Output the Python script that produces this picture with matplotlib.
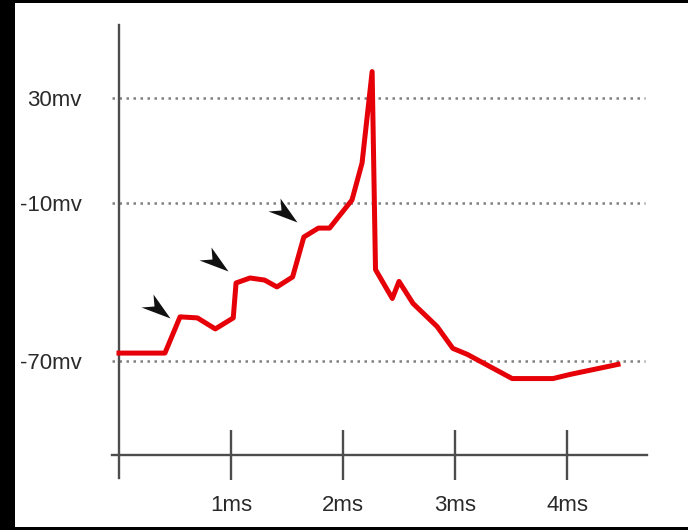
import numpy as np
import matplotlib.pyplot as plt
from matplotlib.path import Path
from matplotlib.patches import Rectangle

plt.rcParams['font.family'] = ['Liberation Sans', 'DejaVu Sans']

# membrane potential trace (time in ms, potential in mV)
t_ms = [0.0, 0.41, 0.545, 0.70, 0.86, 1.02, 1.045, 1.17, 1.30, 1.41, 1.55,
        1.65, 1.78, 1.88, 2.08, 2.17, 2.26, 2.29, 2.44, 2.50, 2.625, 2.84,
        2.98, 3.11, 3.51, 3.875, 4.03, 4.455]
v_mv = [-67.1, -67.1, -53.3, -53.7, -57.9, -53.7, -40.4, -38.5, -39.3, -41.9,
        -38.1, -22.9, -19.5, -19.5, -8.8, 5.3, 40.1, -35.3, -46.3, -39.8,
        -48.2, -57.0, -65.3, -67.6, -76.8, -76.8, -75.2, -71.4]

# y reference levels and x ticks
y_levels = [30, -10, -70]
y_labels = ['30mv', '-10mv', '-70mv']
x_ticks = [1, 2, 3, 4]
x_labels = ['1ms', '2ms', '3ms', '4ms']

# arrowhead tips pointing at the small steps
arrow_t = [0.455, 0.97, 1.59]
arrow_v = [-53.8, -35.9, -17.2]

fig = plt.figure(figsize=(6.88, 5.3), dpi=100, facecolor='black')
fig.patches.append(Rectangle((15 / 688, 3 / 530), 1, 524 / 530,
                             transform=fig.transFigure, facecolor='white',
                             edgecolor='none', zorder=-10))
ax = fig.add_axes([0, 0, 1, 1])
ax.set_facecolor('none')

ax.set_xlim(-1.0625, 5.08)
ax.set_ylim(-134.47, 67.36)

axis_col = '#4d4d4d'
for s in ['top', 'right']:
    ax.spines[s].set_visible(False)
ax.spines['left'].set_position(('data', 0))
ax.spines['left'].set_bounds(-114.6, 57.9)
ax.spines['bottom'].set_position(('data', -105.9))
ax.spines['bottom'].set_bounds(-0.06, 4.71)
for s in ['left', 'bottom']:
    ax.spines[s].set_color(axis_col)
    ax.spines[s].set_linewidth(1.7)

ax.set_xticks(x_ticks)
ax.set_xticklabels(x_labels)
ax.set_yticks(y_levels)
ax.set_yticklabels(y_labels)
ax.tick_params(axis='x', direction='inout', length=36, width=1.7,
               color=axis_col, labelsize=16, labelcolor='#2a2a2a', pad=11)
ax.tick_params(axis='y', length=0, labelsize=16, labelcolor='#2a2a2a', pad=27)
for lab in ax.get_xticklabels():
    lab.set_x(lab.get_position()[0])
    lab.set_horizontalalignment('center')

ax.hlines(y_levels, -0.06, 4.70, colors='#808080', linewidth=1.8,
          linestyles=(0, (1, 1.8)), zorder=1)

ax.plot(t_ms, v_mv, color='#e60008', linewidth=3.6, solid_joinstyle='round',
        zorder=3)

# chevron arrowhead, tip at origin, pixel offsets (y up)
chevron = Path([(0, 0), (-17, 24), (-16, 12), (-29, 11), (0, 0)],
               [Path.MOVETO, Path.LINETO, Path.LINETO, Path.LINETO, Path.CLOSEPOLY])
ax.plot(arrow_t, arrow_v, linestyle='none', marker=chevron,
        markersize=2 * 29 * 0.72, color='#111111', markeredgewidth=0, zorder=4)

fig.savefig('out.png', dpi=100, facecolor='black')
